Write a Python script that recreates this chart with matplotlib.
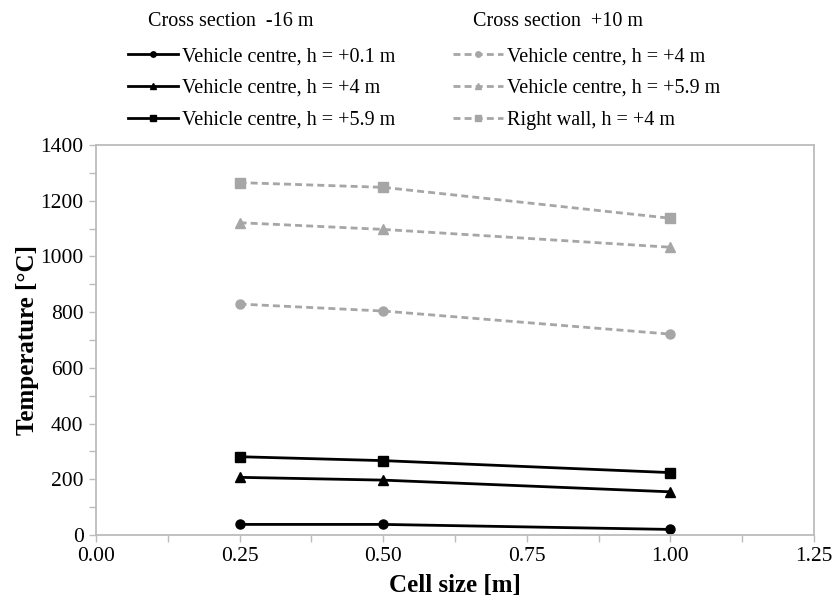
import numpy as np
import matplotlib
matplotlib.use("Agg")
import matplotlib.pyplot as plt
from matplotlib.ticker import MultipleLocator

plt.rcParams["font.family"] = ["Liberation Serif", "DejaVu Serif"]

cell_size = [0.25, 0.50, 1.00]

# cross section -16 m
cs16_title = "Cross section  -16 m"
cs16_labels = ["Vehicle centre, h = +0.1 m", "Vehicle centre, h = +4 m",
               "Vehicle centre, h = +5.9 m"]
cs16_h01 = [38, 38, 20]
cs16_h4 = [207, 197, 155]
cs16_h59 = [281, 267, 224]

# cross section +10 m
cs10_title = "Cross section  +10 m"
cs10_labels = ["Vehicle centre, h = +4 m", "Vehicle centre, h = +5.9 m",
               "Right wall, h = +4 m"]
cs10_h4 = [829, 804, 721]
cs10_h59 = [1121, 1097, 1033]
cs10_wall = [1265, 1248, 1137]

GREY = "#a6a6a6"
AXC = "#bcbcbc"
markers = ["o", "^", "s"]

fig = plt.figure(figsize=(8.33, 6.02), dpi=100)
ax = fig.add_axes([96 / 833, 1 - 535 / 602, (814 - 96) / 833, (535 - 145) / 602])

h16 = []
for vals, m, lab in zip([cs16_h01, cs16_h4, cs16_h59], markers, cs16_labels):
    ln, = ax.plot(cell_size, vals, "-", color="black", lw=2, marker=m, ms=6.5,
                  label=lab)
    h16.append(ln)
h10 = []
for vals, m, lab in zip([cs10_h4, cs10_h59, cs10_wall], markers, cs10_labels):
    ln, = ax.plot(cell_size, vals, "--", color=GREY, lw=2, marker=m, ms=6.5,
                  dashes=(2.5, 1.5), label=lab)
    h10.append(ln)

ax.set_xlim(0, 1.25)
ax.set_ylim(0, 1400)
ax.xaxis.set_major_locator(MultipleLocator(0.25))
ax.xaxis.set_minor_locator(MultipleLocator(0.125))
ax.yaxis.set_major_locator(MultipleLocator(200))
ax.yaxis.set_minor_locator(MultipleLocator(100))
ax.xaxis.set_major_formatter(plt.FuncFormatter(lambda v, p: f"{v:.2f}"))
ax.tick_params(which="both", direction="out", color=AXC, labelsize=15.5,
               length=5, width=1)
ax.tick_params(axis="y", pad=4)
for sp in ax.spines.values():
    sp.set_color(AXC)
    sp.set_linewidth(1.3)
ax.set_xlabel("Cell size [m]", fontsize=18, fontweight="bold", labelpad=6)
ax.set_ylabel("Temperature [°C]", fontsize=18, fontweight="bold", labelpad=1)

leg_kw = dict(loc="upper left", frameon=False, fontsize=14.5, handlelength=2.5,
              handletextpad=0.2, labelspacing=0.63, borderaxespad=0,
              markerscale=0.6)
fig.legend(handles=h16, bbox_to_anchor=(120 / 833, 1 - 39 / 602), **leg_kw)
fig.legend(handles=h10, bbox_to_anchor=(445 / 833, 1 - 39 / 602), **leg_kw)
fig.text(148 / 833, 1 - 22 / 602, cs16_title, fontsize=14.5, va="center")
fig.text(473 / 833, 1 - 22 / 602, cs10_title, fontsize=14.5, va="center")

fig.savefig("out.png", dpi=100)
